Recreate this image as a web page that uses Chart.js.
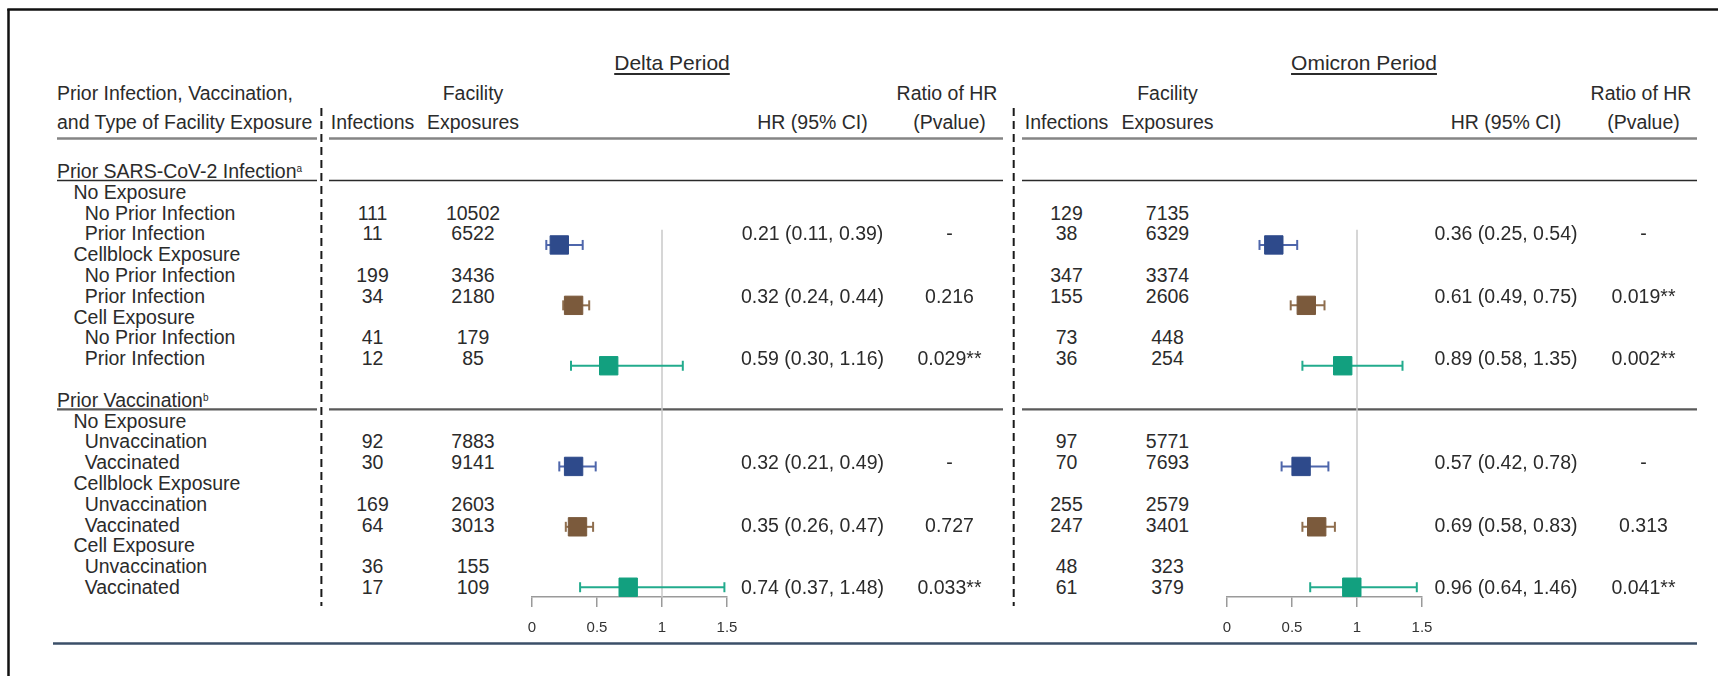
<!DOCTYPE html>
<html><head><meta charset="utf-8">
<script src="https://cdn.jsdelivr.net/npm/chart.js@4.4.1/dist/chart.umd.min.js"></script>
<style>
html,body{margin:0;padding:0;background:#fff;}
#page{position:relative;width:1718px;height:676px;overflow:hidden;font-family:"Liberation Sans",Arial,sans-serif;color:#2b2b2b;background:#fff;}
.t{position:absolute;white-space:nowrap;font-size:19.5px;line-height:20px;height:20px;}
.t sup{font-size:10px;vertical-align:6px;line-height:0;}
.title{font-size:21px;text-decoration:underline;text-underline-offset:3px;text-decoration-thickness:1.5px;}
canvas{position:absolute;}
svg{position:absolute;left:0;top:0;}
</style></head><body><div id="page">
<svg id="rules" width="1718" height="676"></svg>
<canvas id="deltaChart" width="255" height="489" style="left:502px;top:160px"></canvas>
<canvas id="omicronChart" width="255" height="489" style="left:1197px;top:160px"></canvas>
</div>
<script>
// ---------------- DATA ----------------
const periodTitles = ['Delta Period', 'Omicron Period'];
const sectionTitles = ['Prior SARS-CoV-2 Infection', 'Prior Vaccination'];
const sectionNotes = ['a', 'b'];
const exposureTypes = ['No Exposure', 'Cellblock Exposure', 'Cell Exposure'];
const sectionGroups = [['No Prior Infection', 'Prior Infection'], ['Unvaccination', 'Vaccinated']];

const deltaInfections = [111, 11, 199, 34, 41, 12, 92, 30, 169, 64, 36, 17];
const deltaExposures = [10502, 6522, 3436, 2180, 179, 85, 7883, 9141, 2603, 3013, 155, 109];
const deltaHR   = [0.21, 0.32, 0.59, 0.32, 0.35, 0.74];
const deltaLow  = [0.11, 0.24, 0.30, 0.21, 0.26, 0.37];
const deltaHigh = [0.39, 0.44, 1.16, 0.49, 0.47, 1.48];
const deltaRatioP = ['-', '0.216', '0.029**', '-', '0.727', '0.033**'];

const omicronInfections = [129, 38, 347, 155, 73, 36, 97, 70, 255, 247, 48, 61];
const omicronExposures = [7135, 6329, 3374, 2606, 448, 254, 5771, 7693, 2579, 3401, 323, 379];
const omicronHR   = [0.36, 0.61, 0.89, 0.57, 0.69, 0.96];
const omicronLow  = [0.25, 0.49, 0.58, 0.42, 0.58, 0.64];
const omicronHigh = [0.54, 0.75, 1.35, 0.78, 0.83, 1.46];
const omicronRatioP = ['-', '0.019**', '0.002**', '-', '0.313', '0.041**'];

const axisTicks = [0, 0.5, 1, 1.5];
const referenceHR = 1;

// ---------------- LAYOUT / STYLE ----------------
const ROW0 = 170.9, PITCH = 20.8;
const rowY = r => ROW0 + PITCH * r;
const page = document.getElementById('page');
function txt(str, x, y, align, cls) {
  const d = document.createElement('div');
  d.className = 't' + (cls ? ' ' + cls : '');
  d.innerHTML = str;
  d.style.top = (y - 10) + 'px';
  if (align === 'center') { d.style.left = x + 'px'; d.style.transform = 'translateX(-50%)'; }
  else if (align === 'right') { d.style.right = (1718 - x) + 'px'; }
  else { d.style.left = x + 'px'; }
  page.appendChild(d);
}
const expColors = {
  fill: ['#2e4a8b', '#7b5a3c', '#12a07f'],
  line: ['#4e66ab', '#8f6e4e', '#22ab8d']
};
const panels = [
  {inf: deltaInfections, exp: deltaExposures, hr: deltaHR, lo: deltaLow, hi: deltaHigh, rp: deltaRatioP,
   cInf: 372.5, cExp: 473, cHR: 812.5, cRatio: 949.5, cRatioHead: 947, cTitle: 672, canvas: 'deltaChart'},
  {inf: omicronInfections, exp: omicronExposures, hr: omicronHR, lo: omicronLow, hi: omicronHigh, rp: omicronRatioP,
   cInf: 1066.5, cExp: 1167.5, cHR: 1506, cRatio: 1643.5, cRatioHead: 1641, cTitle: 1364, canvas: 'omicronChart'}
];

// headers
txt('Prior Infection, Vaccination,', 57, 93.3, 'left');
txt('and Type of Facility Exposure', 57, 121.7, 'left');
panels.forEach((p, pi) => {
  txt(periodTitles[pi], p.cTitle, 63, 'center', 'title');
  txt('Facility', p.cExp, 93.3, 'center');
  txt('Infections', p.cInf, 121.7, 'center');
  txt('Exposures', p.cExp, 121.7, 'center');
  txt('HR (95% CI)', p.cHR, 121.7, 'center');
  txt('Ratio of HR', p.cRatioHead, 93.3, 'center');
  txt('(Pvalue)', p.cRatio, 121.7, 'center');
});

// body rows
const hrRows = [];
sectionTitles.forEach((st, s) => {
  const base = s * 11;
  txt(st + '<sup>' + sectionNotes[s] + '</sup>', 57, rowY(base), 'left');
  exposureTypes.forEach((et, e) => {
    const er = base + 1 + e * 3;
    txt(et, 73.5, rowY(er), 'left');
    sectionGroups[s].forEach((g, gi) => {
      const r = er + 1 + gi;
      const i = s * 6 + e * 2 + gi;
      txt(g, 84.7, rowY(r), 'left');
      panels.forEach(p => {
        txt(String(p.inf[i]), p.cInf, rowY(r), 'center');
        txt(String(p.exp[i]), p.cExp, rowY(r), 'center');
      });
    });
    const k = s * 3 + e, hrRow = er + 2;
    hrRows.push(hrRow);
    panels.forEach(p => {
      txt(`${p.hr[k].toFixed(2)} (${p.lo[k].toFixed(2)}, ${p.hi[k].toFixed(2)})`, p.cHR, rowY(hrRow), 'center');
      txt(p.rp[k], p.cRatio, rowY(hrRow), 'center');
    });
  });
});

// rules (table decoration)
const svg = document.getElementById('rules');
function ln(x1, y1, x2, y2, color, w, dash) {
  const l = document.createElementNS('http://www.w3.org/2000/svg', 'line');
  l.setAttribute('x1', x1); l.setAttribute('y1', y1); l.setAttribute('x2', x2); l.setAttribute('y2', y2);
  l.setAttribute('stroke', color); l.setAttribute('stroke-width', w);
  if (dash) l.setAttribute('stroke-dasharray', dash);
  svg.appendChild(l);
}
ln(8.5, 9, 8.5, 676, '#111', 2.5);
ln(7.3, 9.5, 1718, 9.5, '#111', 2.5);
const segs = [[57, 317], [329, 1003], [1022, 1697]];
segs.forEach(([a, b]) => {
  ln(a, 138.5, b, 138.5, '#858585', 2.6);
  ln(a, 180.5, b, 180.5, '#2a2a2a', 1.6);
  ln(a, 409.3, b, 409.3, '#5a5a5a', 2.2);
});
ln(53, 643.5, 1697, 643.5, '#3b4f68', 2.6);
ln(321.4, 108, 321.4, 606, '#1a1a1a', 2, '8 5');
ln(1013.7, 108, 1013.7, 606, '#1a1a1a', 2, '8 5');

// ---------------- CHARTS ----------------
const Y_MIN = (160 - ROW0) / PITCH;   // chart area top
const Y_MAX = (597 - ROW0) / PITCH;   // chart area bottom (axis)
panels.forEach(p => {
  const datasets = [];
  hrRows.forEach((row, k) => {
    const e = k % 3;
    datasets.push({
      type: 'scatter', order: 0, clip: false,
      data: [{x: p.hr[k], y: row}],
      pointStyle: 'rect', pointRadius: 13, pointHoverRadius: 13,
      backgroundColor: expColors.fill[e], borderColor: expColors.fill[e], borderWidth: 1
    });
    datasets.push({
      type: 'line', order: 1, clip: false,
      data: [{x: p.lo[k], y: row}, {x: p.hi[k], y: row}],
      borderColor: expColors.line[e], borderWidth: 2,
      pointStyle: 'line', pointRotation: 90, pointRadius: 5, pointHoverRadius: 5,
      pointBorderWidth: 2, pointBorderColor: expColors.line[e], pointBackgroundColor: expColors.line[e]
    });
  });
  datasets.push({
    type: 'line', order: 2, clip: false,
    data: [{x: referenceHR, y: 2.25}, {x: referenceHR, y: Y_MAX}],
    borderColor: '#c9c9c9', borderWidth: 1.5, pointRadius: 0
  });
  new Chart(document.getElementById(p.canvas), {
    type: 'scatter',
    data: {datasets},
    options: {
      responsive: false, animation: false, events: [],
      layout: {padding: {left: 30, right: 30, top: 0, bottom: 0}},
      plugins: {legend: {display: false}, tooltip: {enabled: false}},
      scales: {
        x: {
          type: 'linear', min: axisTicks[0], max: axisTicks[axisTicks.length - 1],
          afterBuildTicks: s => { s.ticks = axisTicks.map(v => ({value: v})); },
          ticks: {color: '#333', padding: 12, font: {family: 'Liberation Sans', size: 15}, callback: v => String(v)},
          grid: {drawOnChartArea: false, drawTicks: true, tickLength: 10, color: '#9a9a9a', lineWidth: 1.5},
          border: {display: true, color: '#9a9a9a', width: 1.5}
        },
        y: {type: 'linear', display: false, reverse: true, min: Y_MIN, max: Y_MAX}
      }
    }
  });
});
</script>
</body></html>
